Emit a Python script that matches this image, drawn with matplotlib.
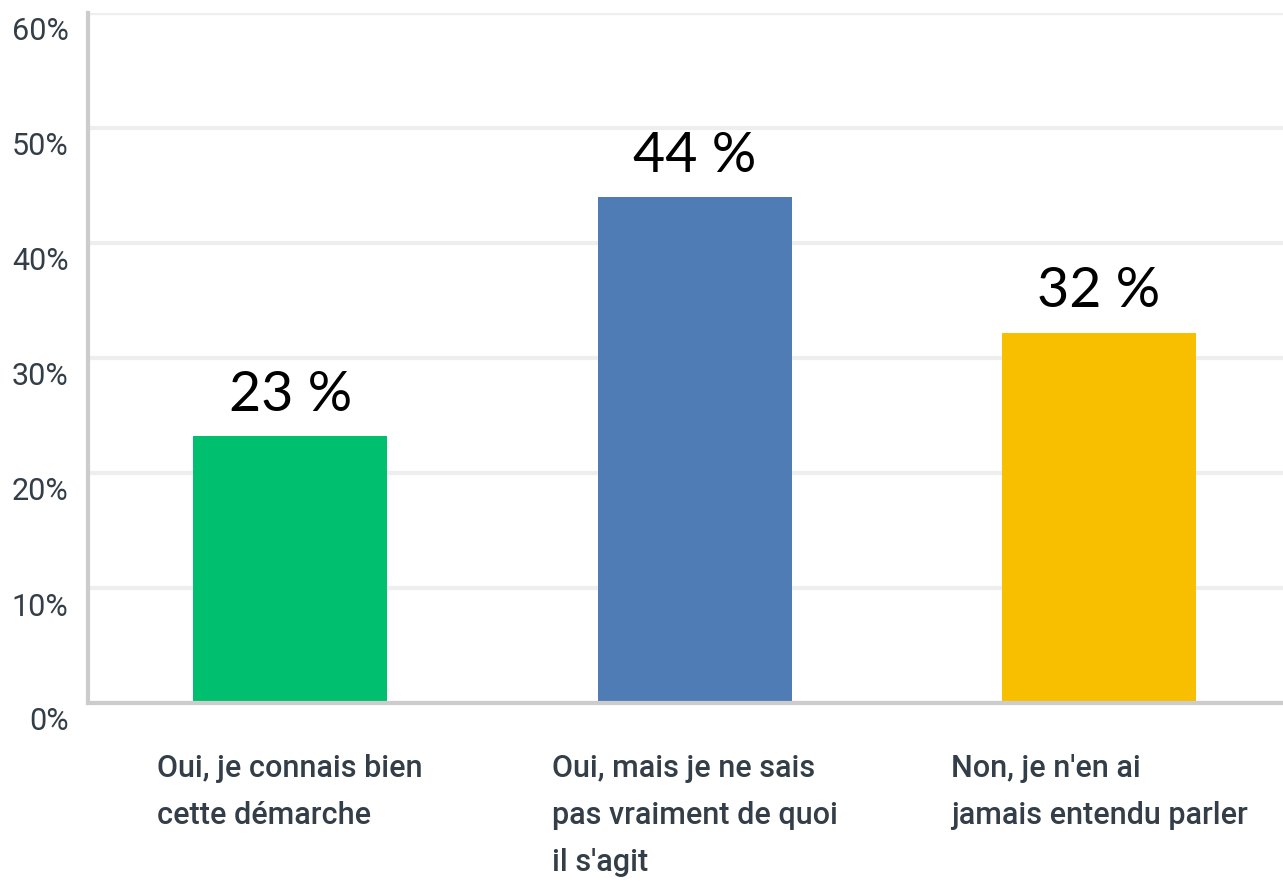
import matplotlib
matplotlib.use("Agg")
import matplotlib.pyplot as plt
from matplotlib.transforms import ScaledTranslation

categories = ["Oui, je connais bien\ncette démarche",
              "Oui, mais je ne sais\npas vraiment de quoi\nil s'agit",
              "Non, je n'en ai\njamais entendu parler"]
values = [23.2, 44.0, 32.2]
value_labels = ["23 %", "44 %", "32 %"]
colors = ["#00BF6F", "#507CB6", "#F8BE00"]
yticks = [0, 10, 20, 30, 40, 50, 60]
ytick_labels = ["0%", "10%", "20%", "30%", "40%", "50%", "60%"]

W, H = 1283, 881
fig = plt.figure(figsize=(W/100, H/100), dpi=100)
ax = fig.add_axes([88/W, (H-703)/H, (W-88)/W, 690/H])

x = list(range(len(categories)))
ax.bar(x, values, width=0.48, color=colors, zorder=3)
ax.set_xlim(-0.5, 2.455)
ax.set_ylim(0, 60)

ax.set_yticks(yticks)
ax.set_yticklabels(ytick_labels, fontfamily="Roboto", fontsize=22, color="#333e48")
ax.tick_params(axis="y", length=0, pad=14)
ax.tick_params(axis="x", length=0)
ax.set_xticks([])
for lab in ax.get_yticklabels():
    lab.set_transform(lab.get_transform() + ScaledTranslation(0, -0.16, fig.dpi_scale_trans))

ax.grid(axis="y", color="#EDEEEE", linewidth=3, zorder=0)
for s in ["top", "right"]:
    ax.spines[s].set_visible(False)
for s in ["left", "bottom"]:
    ax.spines[s].set_color("#CCCCCC")
    ax.spines[s].set_linewidth(3)
    ax.spines[s].set_zorder(4)

for xi, v, t in zip(x, values, value_labels):
    ax.annotate(t, (xi, v), xytext=(0, 11), textcoords="offset points",
                ha="center", va="bottom", fontsize=40, fontfamily="Lato", color="black")

for xi, c in zip(x, categories):
    ax.annotate(c, (xi, 0), xytext=(0, -37), textcoords="offset points",
                ha="center", va="top", multialignment="left",
                fontsize=22, fontfamily="Roboto", fontweight="medium",
                color="#333e48", linespacing=1.78,
                annotation_clip=False)

fig.savefig("out.png", dpi=100)
